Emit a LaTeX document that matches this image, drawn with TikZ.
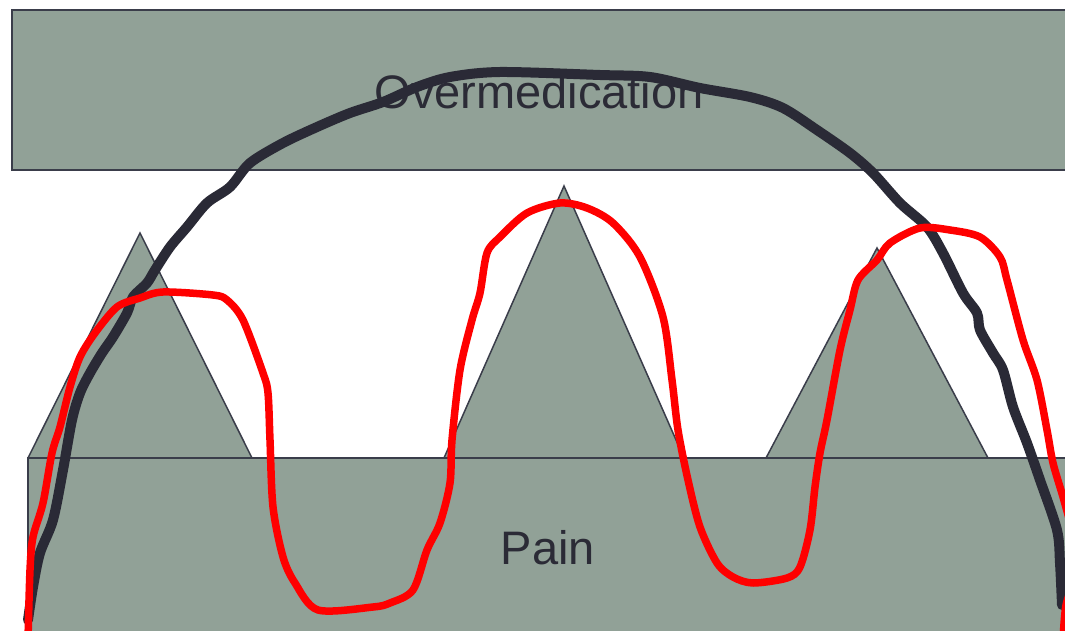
\documentclass[tikz,border=0pt]{standalone}
\usepackage{fontspec}
\setmainfont{Liberation Sans}
\definecolor{boxfill}{RGB}{145,161,151}
\definecolor{boxline}{RGB}{58,61,74}
\definecolor{curvedark}{RGB}{42,42,54}
\definecolor{textdark}{RGB}{43,43,54}
\definecolor{curvered}{RGB}{255,0,0}
\tikzset{
  shapebox/.style={fill=boxfill, draw=boxline, line width=1.5pt},
  lbl/.style={text=textdark, font=\fontsize{47}{52}\selectfont, inner sep=0pt},
  darkcurve/.style={draw=curvedark, line width=10pt, line join=round, line cap=round},
  redcurve/.style={draw=curvered, line width=7.5pt, line join=round, line cap=round},
}
\begin{document}
\begin{tikzpicture}[x=1pt,y=-1pt]
\useasboundingbox (0,0) rectangle (1065,631);
\clip (0,0) rectangle (1065,631);
\fill[white] (0,0) rectangle (1065,631);
% triangles
\draw[shapebox] (28,458) -- (140,233) -- (252,458);
\draw[shapebox] (444,458) -- (564,186) -- (684,458);
\draw[shapebox] (766,458) -- (877,248) -- (988,458);
% boxes
\draw[shapebox] (12,10) rectangle (1080,170);
\draw[shapebox] (28,458) rectangle (1080,650);
\node[lbl] (over) at (539,92) {Overmedication};
\node[lbl] (pain) at (548,548) {Pain};
% dark curve
\draw[darkcurve] plot[smooth, tension=0.5] coordinates {
 (28,620) (33,587) (40,553) (53,520) (63,470) (72,420) (80,393) (90,373)
 (102,353) (113,337) (127,313) (133,297) (147,283) (155,270) (170,247)
 (187,227) (207,203) (230,187) (250,163) (283,143) (317,127) (350,113)
 (383,102) (417,87) (450,77) (500,72) (600,75) (650,77) (700,88) (750,97)
 (783,108) (817,130) (850,153) (873,173) (900,203) (927,227) (943,253)
 (963,293) (977,313) (980,330) (993,353) (1003,370) (1013,407) (1027,443)
 (1040,480) (1057,530) (1060,563) (1062,605)};
% red curve
\draw[redcurve] plot[smooth, tension=0.5] coordinates {
 (28,640) (30,570) (33,537) (43,503) (52,453) (60,427) (70,387) (80,357)
 (95,333) (117,307) (140,298) (163,292) (213,295) (227,300) (243,320)
 (263,373) (268,393) (270,440) (273,507) (283,557) (295,583) (318,610)
 (373,607) (390,603) (413,590) (427,550) (440,523) (450,483) (452,440)
 (460,370) (472,320) (480,293) (487,253) (500,237) (527,213) (560,203)
 (587,208) (613,223) (640,257) (663,317) (672,380) (678,430) (688,480)
 (700,527) (717,563) (733,577) (753,583) (787,578) (800,567) (810,530)
 (815,487) (820,453) (827,420) (840,350) (850,310) (858,280) (877,260)
 (890,243) (920,228) (950,230) (980,237) (1000,257) (1007,280) (1023,340)
 (1037,380) (1047,430) (1053,463) (1063,497) (1075,540)};
\draw[redcurve] plot[smooth, tension=0.5] coordinates {(1075,580) (1066,605) (1063,640)};
\end{tikzpicture}
\end{document}
